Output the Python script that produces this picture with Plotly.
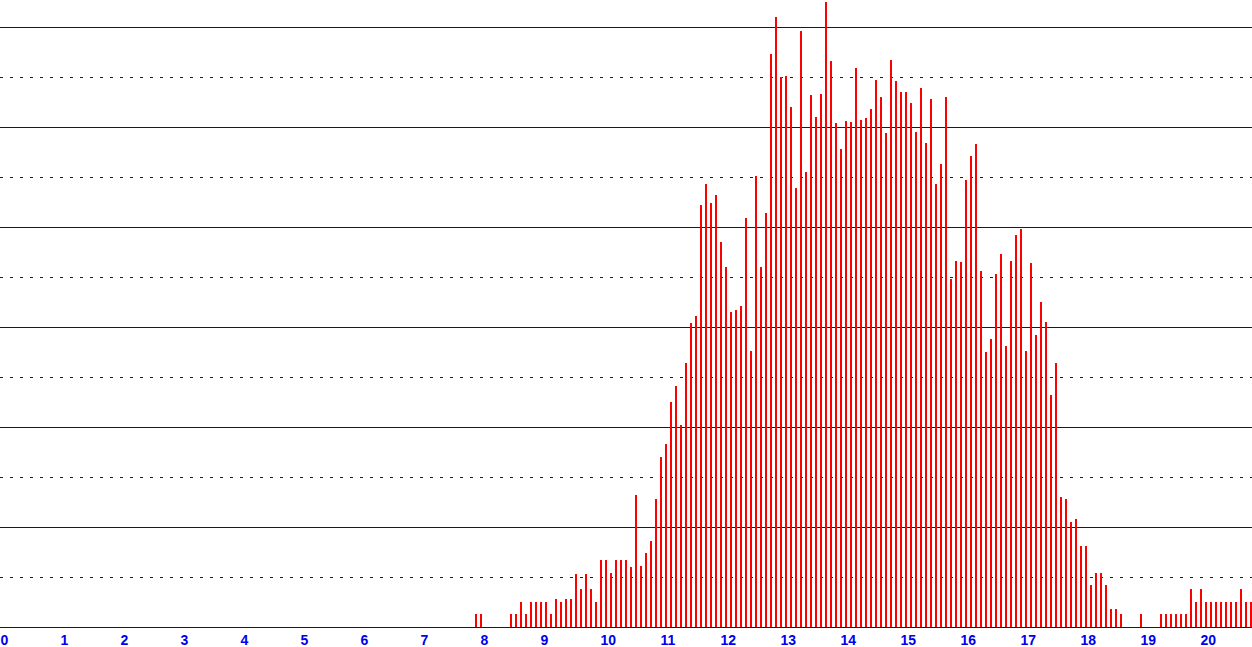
import plotly.graph_objects as go

# Bin index in twelfths of a unit (bin k starts at k/12) and bar heights
bins = list(range(95, 251))
heights = [
    13, 13, 0, 0, 0, 0, 0, 13, 13, 25, 13, 25, 25, 25, 25, 13, 28, 25, 28, 28,
    53, 38, 53, 38, 25, 67, 67, 54, 67, 67, 67, 60, 132, 61, 74, 86, 128, 170, 183, 225,
    241, 202, 264, 304, 311, 422, 443, 424, 432, 385, 360, 315, 317, 321, 409, 276, 451, 360, 414, 573,
    610, 550, 551, 520, 439, 596, 455, 532, 510, 533, 625, 566, 504, 478, 506, 505, 559, 507, 509, 518,
    547, 530, 494, 567, 546, 535, 535, 524, 495, 539, 484, 528, 443, 463, 530, 348, 366, 365, 447, 471,
    483, 356, 275, 288, 353, 373, 281, 366, 392, 398, 276, 364, 292, 325, 305, 232, 264, 130, 128, 105,
    108, 81, 81, 42, 54, 54, 42, 18, 18, 13, 0, 0, 0, 13, 0, 0, 0, 13, 13, 13,
    13, 13, 13, 38, 25, 38, 25, 25, 25, 25, 25, 25, 25, 38, 25, 25,
]
x_ticks = list(range(0, 21))
x_tick_labels = [str(v) for v in x_ticks]

xs = [k / 12 for k in bins]

BLUE = "#0000EE"
fig = go.Figure(
    go.Bar(
        x=xs,
        y=heights,
        width=2 / 60,
        offset=0,
        marker=dict(color="#FF0000", line=dict(width=0)),
        hoverinfo="x+y",
    )
)

fig.update_layout(
    width=1252,
    height=647,
    margin=dict(l=0, r=0, t=0, b=20, pad=0),
    paper_bgcolor="white",
    plot_bgcolor="white",
    showlegend=False,
    bargap=0,
    xaxis=dict(
        range=[0, 1252 / 60],
        tickvals=x_ticks,
        ticktext=x_tick_labels,
        ticks="",
        ticklabelposition="outside right",
        ticklabelstandoff=0,
        showgrid=False,
        zeroline=False,
        showline=True,
        linecolor=BLUE,
        linewidth=1,
        tickfont=dict(family="Liberation Sans", size=14, color=BLUE, weight="bold"),
        fixedrange=True,
    ),
    yaxis=dict(
        range=[0, 627],
        dtick=100,
        tick0=0,
        showticklabels=False,
        ticks="",
        showgrid=True,
        gridcolor=BLUE,
        gridwidth=1,
        zeroline=False,
        showline=False,
        minor=dict(dtick=50, tick0=0, showgrid=True, gridcolor=BLUE, gridwidth=1, griddash="3px,7px"),
        fixedrange=True,
    ),
)

fig.write_html("out.html", config={"displayModeBar": False}, post_script="document.body.style.margin='0';")
